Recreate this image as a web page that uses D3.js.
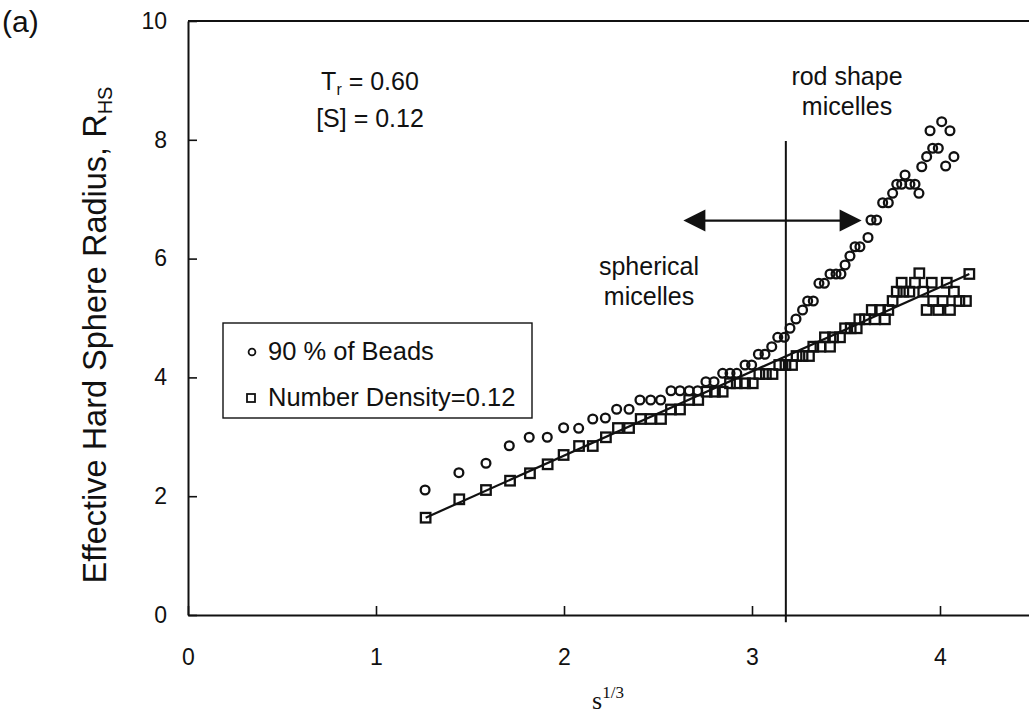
<!DOCTYPE html>
<html>
<head>
<meta charset="utf-8">
<script src="https://cdn.jsdelivr.net/npm/d3@7"></script>
<style>
  html, body { margin: 0; padding: 0; background: #fff; }
  svg { display: block; }
  text { font-family: "Liberation Sans", Arial, Helvetica, sans-serif; fill: #111; }
</style>
</head>
<body>
<svg id="chart" width="1029" height="715"></svg>
<script>
// Axis ticks
const xTicks = [0, 1, 2, 3, 4];
const yTicks = [0, 2, 4, 6, 8, 10];

// Series: [s^(1/3), R_HS]
const beads = [
  [1.261,2.104],[1.441,2.396],[1.585,2.554],[1.709,2.850],[1.815,2.992],[1.911,2.992],
  [1.998,3.153],[2.078,3.143],[2.153,3.300],[2.220,3.316],[2.280,3.463],[2.346,3.463],
  [2.404,3.620],[2.461,3.620],[2.514,3.620],[2.569,3.776],[2.617,3.776],[2.666,3.776],
  [2.711,3.776],[2.755,3.928],[2.798,3.928],[2.844,4.069],[2.883,4.069],[2.919,4.069],
  [2.963,4.209],[2.998,4.209],[3.034,4.389],[3.069,4.389],[3.105,4.517],[3.137,4.675],
  [3.172,4.675],[3.202,4.827],[3.234,4.983],[3.269,5.135],[3.296,5.286],[3.326,5.286],
  [3.356,5.584],[3.385,5.584],[3.415,5.741],[3.447,5.741],[3.473,5.741],[3.495,5.892],
  [3.521,6.044],[3.548,6.200],[3.574,6.200],[3.617,6.355],[3.633,6.650],[3.663,6.650],
  [3.695,6.941],[3.725,6.941],[3.748,7.099],[3.770,7.251],[3.796,7.251],[3.814,7.407],
  [3.840,7.251],[3.867,7.251],[3.888,7.099],[3.903,7.547],[3.929,7.716],[3.961,7.857],
  [3.991,7.857],[3.947,8.153],[4.009,8.305],[4.053,8.153],[4.030,7.559],[4.074,7.716]
];
const density = [
  [1.264,1.638],[1.443,1.948],[1.585,2.104],[1.713,2.261],[1.819,2.386],[1.913,2.537],
  [1.998,2.694],[2.080,2.845],[2.153,2.845],[2.223,2.992],[2.287,3.148],[2.346,3.148],
  [2.408,3.300],[2.461,3.300],[2.516,3.300],[2.569,3.460],[2.617,3.460],[2.666,3.620],
  [2.714,3.620],[2.759,3.759],[2.803,3.759],[2.844,3.759],[2.883,3.901],[2.919,3.901],
  [2.963,3.901],[3.004,3.901],[3.039,4.057],[3.074,4.057],[3.109,4.057],[3.145,4.209],
  [3.178,4.209],[3.213,4.209],[3.237,4.360],[3.269,4.360],[3.303,4.360],[3.326,4.517],
  [3.364,4.517],[3.415,4.517],[3.388,4.675],[3.431,4.675],[3.468,4.675],[3.495,4.827],
  [3.525,4.827],[3.557,4.827],[3.571,4.978],[3.601,4.978],[3.654,4.978],[3.707,4.978],
  [3.637,5.135],[3.681,5.135],[3.725,5.135],[3.748,5.286],[3.770,5.443],[3.805,5.443],
  [3.837,5.443],[3.796,5.594],[3.867,5.594],[3.911,5.443],[3.956,5.594],[3.890,5.753],
  [3.929,5.135],[3.964,5.286],[3.991,5.135],[4.014,5.286],[4.053,5.135],[4.036,5.594],
  [4.074,5.443],[4.103,5.286],[4.138,5.286],[4.156,5.741]
];
// Straight-line fit through the number-density series
const densityFit = [[1.264,1.638],[4.156,5.741]];

// Annotations
const boundaryX = 3.18;            // spherical / rod transition
const boundaryY = [-0.12, 7.98];
const transitionRange = [2.635, 3.583];
const transitionY = 6.64;
const legendLabels = ["90 % of Beads", "Number Density=0.12"];

const ink = "#111";
const svg = d3.select("#chart");
const x = d3.scaleLinear().domain([0, 5]).range([188, 1128]);
const y = d3.scaleLinear().domain([0, 10]).range([615, 21]);

// Axes with inward ticks
const gx = svg.append("g")
  .attr("transform", `translate(0,${y(0)})`)
  .call(d3.axisBottom(x).tickValues(xTicks).tickSize(-9).tickSizeOuter(0)
    .tickPadding(34).tickFormat(d3.format("d")));
const gy = svg.append("g")
  .attr("transform", `translate(${x(0)},0)`)
  .call(d3.axisLeft(y).tickValues(yTicks).tickSize(-9).tickSizeOuter(0)
    .tickPadding(21).tickFormat(d3.format("d")));
[gx, gy].forEach(g => {
  g.select(".domain").attr("stroke", ink).attr("stroke-width", 2);
  g.selectAll(".tick line").attr("stroke", ink).attr("stroke-width", 1.6);
  g.selectAll(".tick text").attr("fill", ink).style("font-size", "23px")
    .style("font-family", '"Liberation Sans", Arial, sans-serif');
});

// Top frame line
svg.append("line")
  .attr("x1", x(0)).attr("x2", x(5)).attr("y1", y(10)).attr("y2", y(10))
  .attr("stroke", ink).attr("stroke-width", 2);

// Transition boundary
svg.append("line")
  .attr("x1", x(boundaryX)).attr("x2", x(boundaryX))
  .attr("y1", y(boundaryY[0])).attr("y2", y(boundaryY[1]))
  .attr("stroke", ink).attr("stroke-width", 2);

// Double-headed arrow
const ax0 = x(transitionRange[0]), ax1 = x(transitionRange[1]), ay = y(transitionY);
const headL = 22, headW = 11;
svg.append("line")
  .attr("x1", ax0 + headL - 2).attr("x2", ax1 - headL + 2).attr("y1", ay).attr("y2", ay)
  .attr("stroke", ink).attr("stroke-width", 2.2);
svg.append("path")
  .attr("d", `M${ax0},${ay}L${ax0 + headL},${ay - headW}L${ax0 + headL},${ay + headW}Z`)
  .attr("fill", ink);
svg.append("path")
  .attr("d", `M${ax1},${ay}L${ax1 - headL},${ay - headW}L${ax1 - headL},${ay + headW}Z`)
  .attr("fill", ink);

// Fit line
svg.append("path")
  .datum(densityFit)
  .attr("d", d3.line().x(d => x(d[0])).y(d => y(d[1])))
  .attr("fill", "none").attr("stroke", ink).attr("stroke-width", 2.2);

// Markers
svg.append("g").selectAll("circle").data(beads).join("circle")
  .attr("cx", d => x(d[0])).attr("cy", d => y(d[1])).attr("r", 4.4)
  .attr("fill", "none").attr("stroke", ink).attr("stroke-width", 2.3);
const sq = 9.5;
svg.append("g").selectAll("rect").data(density).join("rect")
  .attr("x", d => x(d[0]) - sq / 2).attr("y", d => y(d[1]) - sq / 2)
  .attr("width", sq).attr("height", sq)
  .attr("fill", "none").attr("stroke", ink).attr("stroke-width", 2.3);

// Legend
const lg = svg.append("g").attr("transform", "translate(223,323)");
lg.append("rect").attr("width", 309).attr("height", 95)
  .attr("fill", "#fff").attr("stroke", ink).attr("stroke-width", 1.4);
lg.append("circle").attr("cx", 29).attr("cy", 29).attr("r", 3.4)
  .attr("fill", "none").attr("stroke", ink).attr("stroke-width", 1.8);
lg.append("rect").attr("x", 24).attr("y", 71).attr("width", 8).attr("height", 8)
  .attr("fill", "none").attr("stroke", ink).attr("stroke-width", 1.8);
lg.selectAll("text.lab").data(legendLabels).join("text").attr("class", "lab")
  .attr("x", 45).attr("y", (d, i) => 37 + i * 46)
  .style("font-size", "25.5px").text(d => d);

// Text annotations
const label = (tx, ty, str, size, anchor) => svg.append("text")
  .attr("x", tx).attr("y", ty).attr("text-anchor", anchor || "middle")
  .style("font-size", size + "px").text(str);

label(2, 32, "(a)", 30, "start");

const tr = svg.append("text").attr("x", 370).attr("y", 90)
  .attr("text-anchor", "middle").style("font-size", "25px");
tr.append("tspan").text("T");
tr.append("tspan").attr("dy", 5).style("font-size", "16px").text("r");
tr.append("tspan").attr("dy", -5).text(" = 0.60");
label(370, 127, "[S] = 0.12", 25);

label(847, 85, "rod shape", 25);
label(847, 115, "micelles", 25);
label(649, 275, "spherical", 25);
label(649, 305, "micelles", 25);

// Axis titles
const yt = svg.append("text")
  .attr("transform", "translate(106,335) rotate(-90)")
  .attr("text-anchor", "middle").style("font-size", "32.5px");
yt.append("tspan").text("Effective Hard Sphere Radius, R");
yt.append("tspan").attr("dy", 6).style("font-size", "20px").text("HS");

const xt = svg.append("text").attr("x", 608).attr("y", 709)
  .attr("text-anchor", "middle")
  .style("font-family", '"Liberation Serif", "Times New Roman", serif')
  .style("font-size", "26px");
xt.append("tspan").text("s");
xt.append("tspan").attr("dy", -11).style("font-size", "17px").text("1/3");
</script>
</body>
</html>
